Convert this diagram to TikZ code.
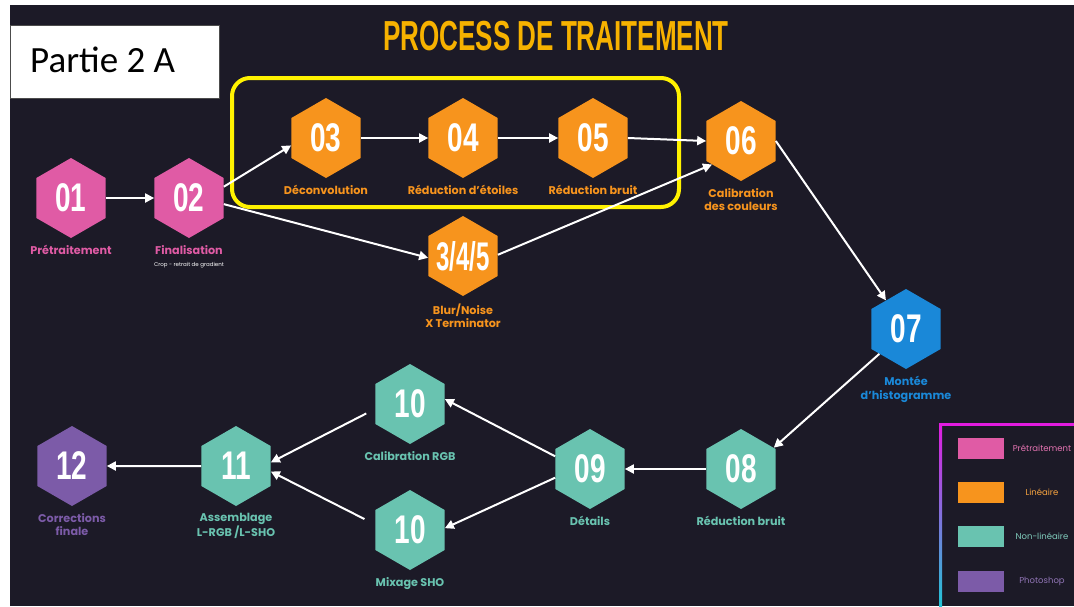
\documentclass[tikz,border=0pt]{standalone}
\usepackage{fontspec}
\usepackage{graphicx}
\setmainfont{Poppins}
\newfontfamily\numfont{Liberation Sans}
\newfontfamily\boxfont{Carlito}
\usetikzlibrary{%
    arrows.meta,
    positioning,
    shapes.geometric
}
\definecolor{bgdark}{HTML}{1C1A27}
\definecolor{prepink}{HTML}{E05BA5}
\definecolor{linorange}{HTML}{F7941D}
\definecolor{histblue}{HTML}{1A88D8}
\definecolor{nonlinteal}{HTML}{69C3B0}
\definecolor{shoppurple}{HTML}{7C5BA8}
\definecolor{titleyellow}{HTML}{F7B200}
\definecolor{framemagenta}{HTML}{E21BE0}
\definecolor{framecyan}{HTML}{22C4D6}
\newcommand{\hexnum}[2][0.7]{\makebox[0pt]{\scalebox{#1}[1]{\numfont\bfseries\fontsize{40}{40}\selectfont #2}}}
\tikzset{hexstep/.style = {regular polygon, regular polygon sides=6, shape border rotate=30,
    minimum size=80pt, inner sep=0pt, text=white}}
\tikzset{steplabel/.style = {align=center, inner sep=1pt, anchor=north,
    font=\bfseries\fontsize{11.2}{13.5}\selectfont}}
\tikzset{flowarrow/.style = {draw=white, line width=2pt, -{Triangle[length=9pt, width=9pt]}}}
\tikzset{legendbox/.style = {minimum width=46pt, minimum height=21pt, inner sep=0pt}}
\tikzset{legendtext/.style = {font=\fontsize{8.5}{9}\selectfont}}

\begin{document}
\begin{tikzpicture}[x=1pt, y=-1pt]
    \useasboundingbox (0,0) rectangle (1074,606);
    \fill[white] (0,0) rectangle (1074,606);
    \fill[bgdark] (10,5) rectangle (1074,606);

    % title and part box
    \node[anchor=base, text=titleyellow] (title) at (556,50)
        {\scalebox{0.62}[1]{\numfont\bfseries\fontsize{42}{42}\selectfont PROCESS DE TRAITEMENT}};
    \node[draw=black!70, fill=white, line width=0.8pt, minimum width=209pt, minimum height=73pt,
        anchor=north west] (part) at (10,25) {};
    \node[anchor=base west, inner sep=0pt] (part-text) at (30,72)
        {\boxfont\fontsize{37}{37}\selectfont Partie 2 A};

    % linear group frame
    \draw[yellow, line width=4pt, rounded corners=18pt] (232,78) rectangle (679,207);

    % hexagon steps
    \node[hexstep, fill=prepink]    (N01)  at (71,198)  {\hexnum{01}};
    \node[hexstep, fill=prepink]    (N02)  at (189,198) {\hexnum{02}};
    \node[hexstep, fill=linorange]  (N03)  at (326,138) {\hexnum{03}};
    \node[hexstep, fill=linorange]  (N04)  at (463,138) {\hexnum{04}};
    \node[hexstep, fill=linorange]  (N05)  at (593,138) {\hexnum{05}};
    \node[hexstep, fill=linorange]  (N06)  at (741,141) {\hexnum{06}};
    \node[hexstep, fill=linorange]  (N345) at (463,256) {\hexnum[0.6]{3/4/5}};
    \node[hexstep, fill=histblue]   (N07)  at (906,329) {\hexnum{07}};
    \node[hexstep, fill=nonlinteal] (N08)  at (741,469) {\hexnum{08}};
    \node[hexstep, fill=nonlinteal] (N09)  at (590,469) {\hexnum{09}};
    \node[hexstep, fill=nonlinteal] (N10a) at (410,404) {\hexnum{10}};
    \node[hexstep, fill=nonlinteal] (N10b) at (410,530) {\hexnum{10}};
    \node[hexstep, fill=nonlinteal] (N11)  at (236,466) {\hexnum{11}};
    \node[hexstep, fill=shoppurple] (N12)  at (72,466)  {\hexnum{12}};

    % labels under the steps
    \node[steplabel, text=prepink]    (N01-label)  [below=6pt of N01]  {Prétraitement};
    \node[steplabel, text=prepink]    (N02-label)  [below=6pt of N02]  {Finalisation};
    \node[text=white, inner sep=0pt, font=\fontsize{5.5}{6}\selectfont] (N02-note)
        [below=6pt of N02-label] {Crop - retrait de gradient};
    \node[steplabel, text=linorange]  (N03-label)  [below=6pt of N03]  {Déconvolution};
    \node[steplabel, text=linorange]  (N04-label)  [below=6pt of N04]  {Réduction d'étoiles};
    \node[steplabel, text=linorange]  (N05-label)  [below=6pt of N05]  {Réduction bruit};
    \node[steplabel, text=linorange]  (N06-label)  [below=6pt of N06]  {Calibration\\des couleurs};
    \node[steplabel, text=linorange]  (N345-label) [below=6pt of N345] {Blur/Noise\\X Terminator};
    \node[steplabel, text=histblue]   (N07-label)  [below=6pt of N07]  {Montée\\d'histogramme};
    \node[steplabel, text=nonlinteal] (N08-label)  [below=6pt of N08]  {Réduction bruit};
    \node[steplabel, text=nonlinteal] (N09-label)  [below=6pt of N09]  {Détails};
    \node[steplabel, text=nonlinteal] (N10a-label) [below=6pt of N10a] {Calibration RGB};
    \node[steplabel, text=nonlinteal] (N10b-label) [below=6pt of N10b] {Mixage SHO};
    \node[steplabel, text=nonlinteal] (N11-label)  [below=6pt of N11]  {Assemblage\\L-RGB /L-SHO};
    \node[steplabel, text=shoppurple] (N12-label)  [below=6pt of N12]  {Corrections\\finale};

    % edges
    \foreach \Source/\Target/\Out/\In in {%
        N01/N02/0/180,
        N02/N03/18/192,
        N02/N345/350/183,
        N03/N04/0/180,
        N04/N05/0/180,
        N05/N06/0/180,
        N345/N06/2/219,
        N06/N07/0/125,
        N07/N08/223/33,
        N08/N09/180/0,
        N09/N10a/160/8,
        N09/N10b/194/3,
        N11/N12/180/0%
        }
        \draw[flowarrow] (\Source.\Out) -- (\Target.\In);
    \draw[flowarrow, shorten <=10pt] (N10a.188) -- (N11.6);
    \draw[flowarrow, shorten <=12pt] (N10b.171) -- (N11.351);

    % legend
    \shade[top color=framemagenta, bottom color=framecyan] (939,423) rectangle (942,606);
    \fill[framemagenta] (939,423) rectangle (1074,426);
    \foreach \Key/\Col/\Text/\Y in {%
        pre/prepink/Prétraitement/448,
        lin/linorange/Linéaire/492,
        non/nonlinteal/Non-linéaire/536,
        pho/shoppurple/Photoshop/581%
        }
        {
        \node[legendbox, fill=\Col] (leg-\Key) at (981,\Y) {};
        \node[legendtext, text=\Col!85!white] (leg-\Key-text) at (1042,\Y) {\Text};
        }
\end{tikzpicture}
\end{document}
